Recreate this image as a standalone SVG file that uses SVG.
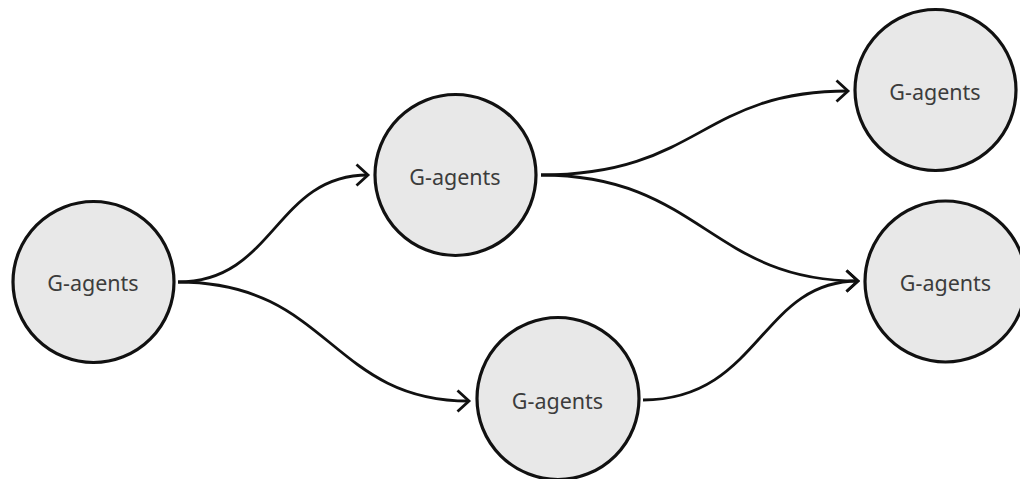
<svg xmlns="http://www.w3.org/2000/svg" width="1020" height="479" viewBox="0 0 1020 479">
<style>
.node circle{fill:#e8e8e8;stroke:#111;stroke-width:3.2}
.node text{font-family:"Noto Sans","Open Sans",sans-serif;font-size:21.5px;fill:#3c3c3c;text-anchor:middle}
.edge{fill:none;stroke:#111;stroke-width:2.8;marker-end:url(#arr)}
</style>
<defs>
<marker id="arr" markerUnits="userSpaceOnUse" markerWidth="30" markerHeight="30" viewBox="-15 -15 30 30" refX="0" refY="0" orient="auto">
<path d="M-11.5,-10.5 L0,0 L-11.5,10.5" fill="none" stroke="#111" stroke-width="2.8"/>
</marker>
</defs>
<g id="connectors">
<path class="edge" d="M178,282 C275,282 275,175 368,175"/>
<path class="edge" d="M178,282 C330,282 330,401 469,401"/>
<path class="edge" d="M541,175 C700,175 700,91 848,91"/>
<path class="edge" d="M541,175 C700,175 710,281 858,281"/>
<path class="edge" d="M643,400 C760,400 760,281 858,281"/>
</g>
<g id="n1" class="node"><circle cx="93.5" cy="282" r="80.5"/><text x="93" y="291">G-agents</text></g>
<g id="n2" class="node"><circle cx="455.5" cy="175" r="80.5"/><text x="455" y="185">G-agents</text></g>
<g id="n3" class="node"><circle cx="558" cy="398.5" r="81"/><text x="557.5" y="409">G-agents</text></g>
<g id="n4" class="node"><circle cx="935.5" cy="90" r="80.5"/><text x="935" y="100">G-agents</text></g>
<g id="n5" class="node"><circle cx="945.5" cy="281.5" r="80.5"/><text x="945.5" y="291">G-agents</text></g>
</svg>
